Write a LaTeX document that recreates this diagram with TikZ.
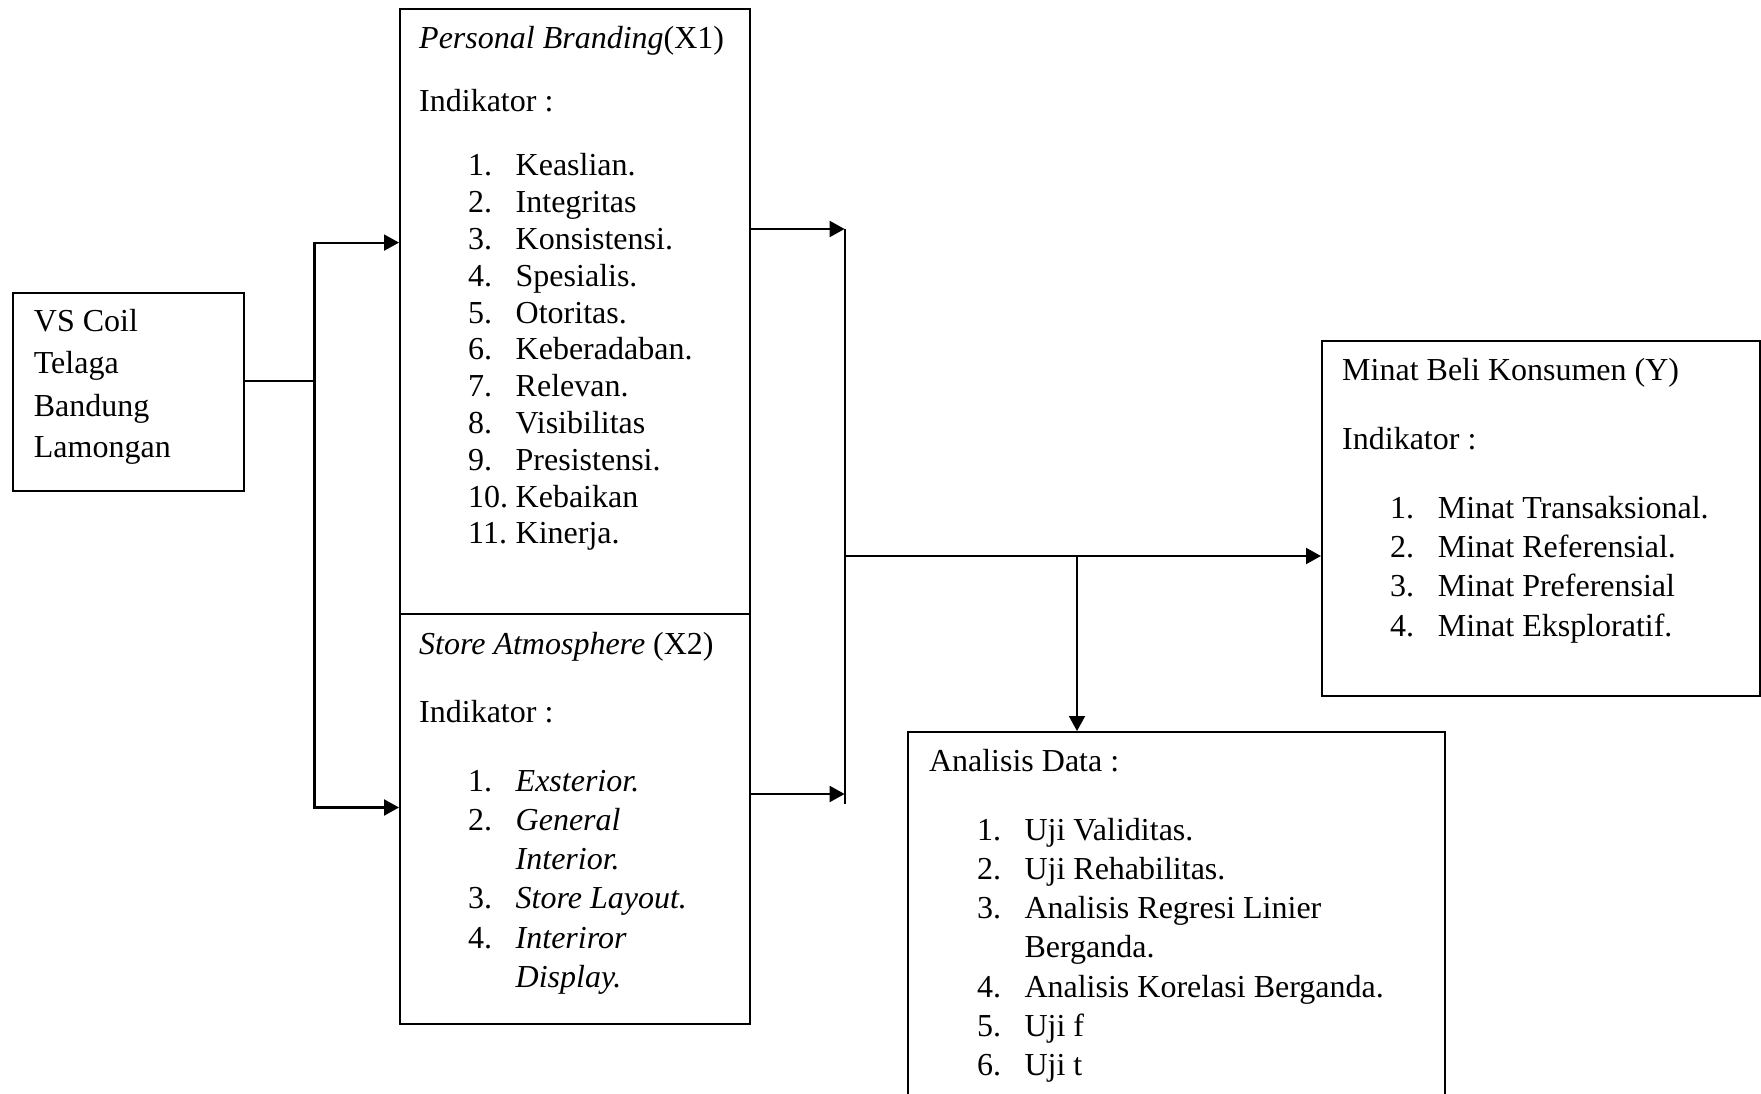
\documentclass[tikz,border=0pt]{standalone}
\usepackage{fontspec}
\setmainfont{Liberation Serif}
\usetikzlibrary{arrows.meta}
\begin{document}
\begin{tikzpicture}[x=1pt,y=-1pt,
  box/.style={draw,line width=2.1pt,inner sep=0pt,anchor=north west},
  txt/.style={inner sep=0pt,anchor=base west,font=\fontsize{32}{36.8}\selectfont},
  conn/.style={line width=2.1pt,line join=miter},
  arr/.style={conn,-{Triangle[length=15pt,width=16pt]}}]
\useasboundingbox (0,0) rectangle (1761,1094);
\clip (0,0) rectangle (1761,1094);
% boxes
\node[box,minimum width=231pt,minimum height=198pt] (vs) at (12,292) {};
\node[box,minimum width=350pt,minimum height=605pt] (x1) at (399,8) {};
\node[box,minimum width=350pt,minimum height=410pt] (x2) at (399,613) {};
\node[box,minimum width=438pt,minimum height=355pt] (yb) at (1321,340) {};
\node[box,minimum width=537pt,minimum height=450pt] (ad) at (907,731) {};
% VS Coil text
\node[txt] (vs1) at (33.7,331.9) {VS Coil};
\node[txt] (vs2) at (33.7,373.4) {Telaga};
\node[txt] (vs3) at (33.7,416.1) {Bandung};
\node[txt] (vs4) at (33.7,457.7) {Lamongan};
% X1 text
\node[txt] (x1t) at (419,48.9) {\textit{Personal Branding}(X1)};
\node[txt] (x1i) at (419,111.7) {Indikator :};
\foreach \t [count=\j] in {Keaslian.,Integritas,Konsistensi.,Spesialis.,Otoritas.,Keberadaban.,Relevan.,Visibilitas,Presistensi.,Kebaikan,Kinerja.}{
  \node[txt] (x1n\j) at (468,139+36.8*\j) {\j.};
  \node[txt] (x1s\j) at (515.5,139+36.8*\j) {\t};
}
% X2 text
\node[txt] (x2t) at (419,654) {\textit{Store Atmosphere} (X2)};
\node[txt] (x2i) at (419,722.7) {Indikator :};
\node[txt] (x2n1) at (468,791) {1.};
\node[txt] (x2s1) at (515.5,791) {\textit{Exsterior.}};
\node[txt] (x2n2) at (468,830.3) {2.};
\node[txt] (x2s2) at (515.5,830.3) {\textit{General}};
\node[txt] (x2s2b) at (515.5,869.6) {\textit{Interior.}};
\node[txt] (x2n3) at (468,908.9) {3.};
\node[txt] (x2s3) at (515.5,908.9) {\textit{Store Layout.}};
\node[txt] (x2n4) at (468,948.2) {4.};
\node[txt] (x2s4) at (515.5,948.2) {\textit{Interiror}};
\node[txt] (x2s4b) at (515.5,987.5) {\textit{Display.}};
% Y text
\node[txt] (yt) at (1342,380.2) {Minat Beli Konsumen (Y)};
\node[txt] (yi) at (1342,449.8) {Indikator :};
\foreach \t [count=\j] in {Minat Transaksional.,Minat Referensial.,Minat Preferensial,Minat Eksploratif.}{
  \node[txt] (yn\j) at (1390,479+39.3*\j) {\j.};
  \node[txt] (ys\j) at (1437.6,479+39.3*\j) {\t};
}
% Analisis text
\node[txt] (adt) at (928.8,771) {Analisis Data :};
\node[txt] (adn1) at (977,840.6) {1.};
\node[txt] (ads1) at (1024.3,840.6) {Uji Validitas.};
\node[txt] (adn2) at (977,879.7) {2.};
\node[txt] (ads2) at (1024.3,879.7) {Uji Rehabilitas.};
\node[txt] (adn3) at (977,918.8) {3.};
\node[txt] (ads3) at (1024.3,918.8) {Analisis Regresi Linier};
\node[txt] (ads3b) at (1024.3,957.9) {Berganda.};
\node[txt] (adn4) at (977,997) {4.};
\node[txt] (ads4) at (1024.3,997) {Analisis Korelasi Berganda.};
\node[txt] (adn5) at (977,1036.1) {5.};
\node[txt] (ads5) at (1024.3,1036.1) {Uji f};
\node[txt] (adn6) at (977,1075.2) {6.};
\node[txt] (ads6) at (1024.3,1075.2) {Uji t};
% connectors left
\coordinate (lb) at (314.5,380.7);
\coordinate (lbt) at (314.5,242.6);
\coordinate (lbb) at (314.5,807.5);
\draw[conn] (vs.east |- lb) -- (lb);
\draw[arr] (lb) -- (lbt) -- (lbt -| x1.west);
\draw[arr] (lb) -- (lbb) -- (lbb -| x2.west);
% connectors right
\coordinate (rbt) at (844.6,229);
\coordinate (rb2) at (844.6,794);
\coordinate (rbb) at (844.6,804);
\draw[conn] (rbt) -- (rbb);
\draw[arr] (x1.east |- rbt) -- (rbt);
\draw[arr] (x2.east |- rb2) -- (rb2);
\coordinate (rm) at (844.6,556);
\draw[arr] (rm) -- (rm -| yb.west);
\coordinate (br) at (1077,556);
\draw[arr] (br) -- (br |- ad.north);
\end{tikzpicture}
\end{document}
